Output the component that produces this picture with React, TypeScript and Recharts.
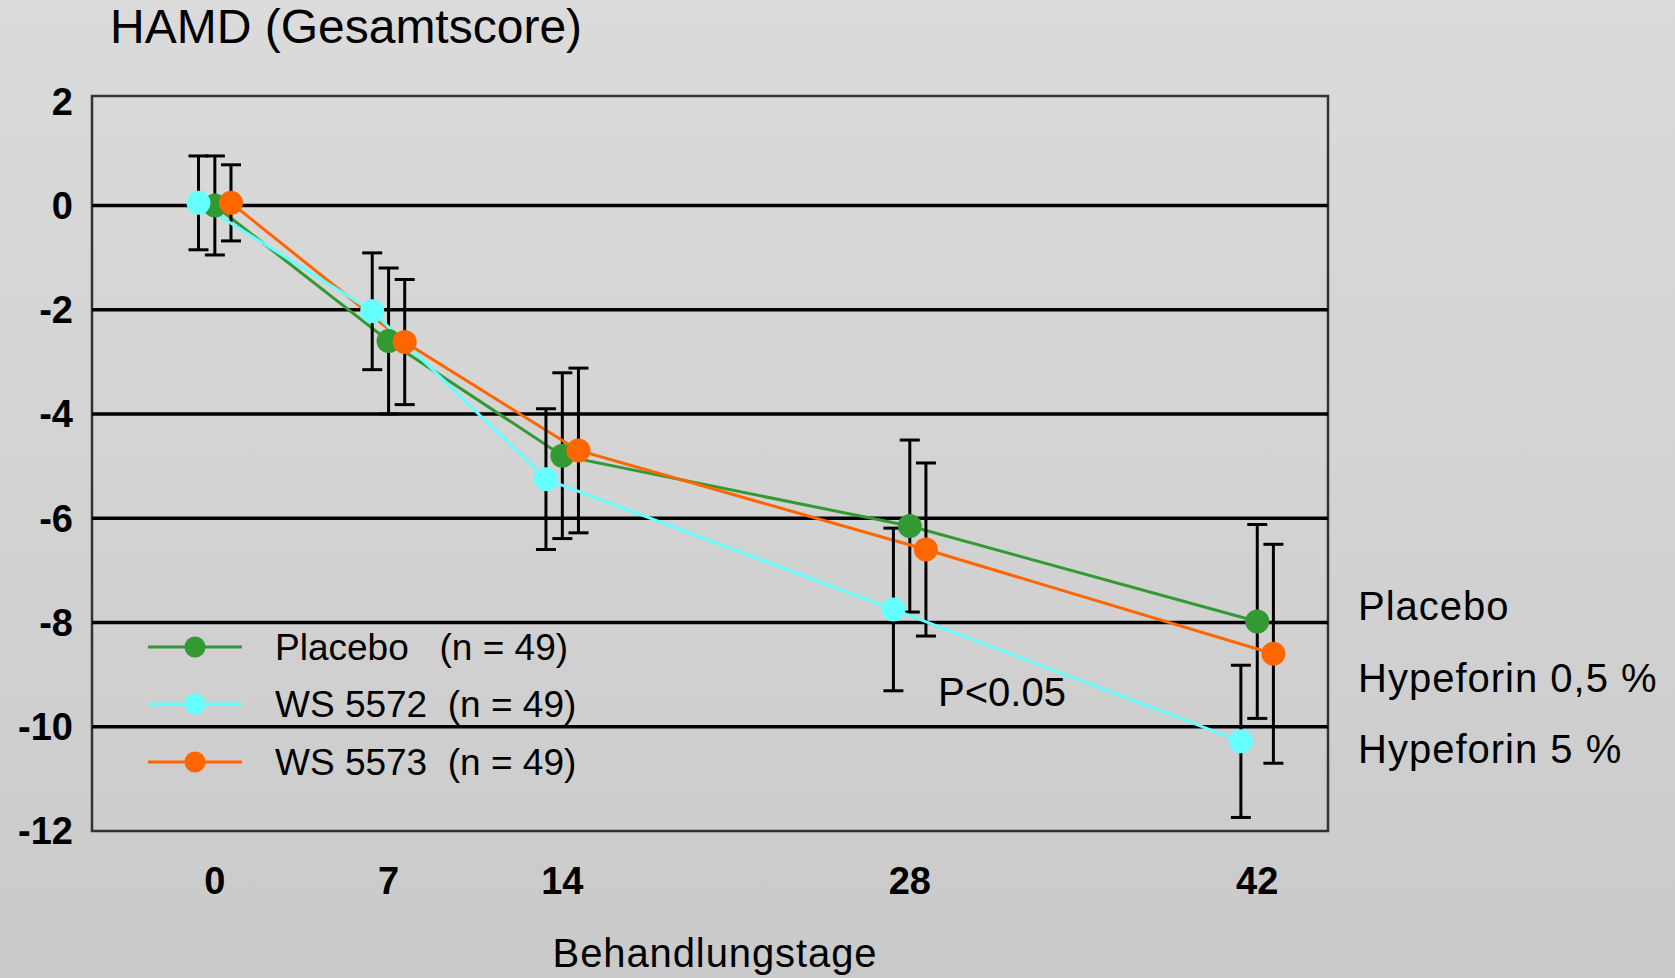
import React from 'react';
import { LineChart, Line, XAxis, YAxis, ErrorBar, ReferenceLine, ReferenceArea } from 'recharts';

// Messzeitpunkte (Behandlungstage)
const days = [0, 7, 14, 28, 42];

// mittlere Veränderung HAMD-Gesamtscore, Fehlerbalken je Gruppe
const placeboMean = [0, -2.6, -4.8, -6.15, -7.98];
const placeboErr = [0.95, 1.4, 1.59, 1.65, 1.86];
const ws5572Mean = [0.05, -2.03, -5.25, -7.75, -10.28];
const ws5572Err = [0.9, 1.12, 1.35, 1.56, 1.46];
const ws5573Mean = [0.05, -2.62, -4.7, -6.6, -8.6];
const ws5573Err = [0.73, 1.2, 1.58, 1.66, 2.1];

const xTicks = [0, 7, 14, 28, 42];
const yTicks = [2, 0, -2, -4, -6, -8, -10, -12];
const gridValues = [0, -2, -4, -6, -8, -10];

const legendNames = ['Placebo   (n = 49)', 'WS 5572  (n = 49)', 'WS 5573  (n = 49)'];
const doseLabels = ['Placebo', 'Hypeforin 0,5 %', 'Hypeforin 5 %'];

const X_DOMAIN: [number, number] = [-4.95, 44.85];
const Y_DOMAIN: [number, number] = [-12, 2.1];
const FONT = '"Liberation Sans", Arial, Helvetica, sans-serif';

// shift = seitlicher Versatz in Tagen, damit sich die Fehlerbalken nicht verdecken
const series = [
  { key: 'placebo', name: legendNames[0], color: '#339933', mean: placeboMean, err: placeboErr, shift: 0 },
  { key: 'ws5572', name: legendNames[1], color: '#66ffff', mean: ws5572Mean, err: ws5572Err, shift: -0.66 },
  { key: 'ws5573', name: legendNames[2], color: '#ff6600', mean: ws5573Mean, err: ws5573Err, shift: 0.65 },
];

const toPoints = (mean: number[], err: number[], shift: number) =>
  days.map((d, i) => ({ x: d + shift, y: mean[i], err: err[i] }));

// Zeichenreihenfolge: Placebo unten, WS 5572 oben
const drawOrder = ['placebo', 'ws5573', 'ws5572'];

export default function App() {
  const tickStyle = { fill: '#000', fontSize: 38, fontWeight: 700, fontFamily: FONT };

  return (
    <div
      style={{
        position: 'absolute',
        left: 0,
        top: 0,
        width: 1675,
        height: 978,
        background: 'linear-gradient(180deg, #dbdbdb 0%, #d3d3d3 50%, #cacaca 100%)',
        fontFamily: FONT,
        overflow: 'hidden',
      }}
    >
      <LineChart width={1675} height={978} margin={{ top: 96, right: 347, bottom: 5, left: 12 }}>
        <XAxis
          type="number"
          dataKey="x"
          domain={X_DOMAIN}
          ticks={xTicks}
          interval={0}
          allowDataOverflow
          axisLine={false}
          tickLine={false}
          tickMargin={30}
          height={142}
          tick={tickStyle}
          label={{
            value: 'Behandlungstage',
            position: 'insideBottom',
            offset: 6,
            dx: 5,
            fill: '#000',
            fontSize: 40,
            letterSpacing: 0.9,
            fontFamily: FONT,
          }}
        />
        <YAxis
          type="number"
          domain={Y_DOMAIN}
          ticks={yTicks}
          interval={0}
          allowDataOverflow
          width={80}
          axisLine={false}
          tickLine={false}
          tickMargin={13}
          tick={tickStyle}
        />

        {gridValues.map((v) => (
          <ReferenceLine key={v} y={v} stroke="#000" strokeWidth={3.5} />
        ))}

        <ReferenceArea
          x1={X_DOMAIN[0]}
          x2={X_DOMAIN[1]}
          y1={Y_DOMAIN[0]}
          y2={Y_DOMAIN[1]}
          fill="none"
          fillOpacity={0}
          stroke="#333"
          strokeWidth={2.5}
        />

        {drawOrder.map((k) => {
          const s = series.find((item) => item.key === k)!;
          return (
            <Line
              key={s.key}
              data={toPoints(s.mean, s.err, s.shift)}
              dataKey="y"
              name={s.name}
              type="linear"
              stroke={s.color}
              strokeWidth={3}
              dot={{ r: 12, fill: s.color, stroke: s.color, strokeWidth: 0 }}
              activeDot={false}
              isAnimationActive={false}
            >
              <ErrorBar dataKey="err" width={10} stroke="#000" strokeWidth={3} isAnimationActive={false} />
            </Line>
          );
        })}
      </LineChart>

      <svg
        width={1675}
        height={978}
        style={{ position: 'absolute', left: 0, top: 0, pointerEvents: 'none' }}
        fontFamily={FONT}
      >
        <text x={110} y={43} fontSize={48} fill="#000">
          HAMD (Gesamtscore)
        </text>

        {series.map((s, i) => {
          const cy = [647, 704, 762][i];
          return (
            <g key={s.key}>
              <line x1={148} x2={242} y1={cy} y2={cy} stroke={s.color} strokeWidth={3} />
              <circle cx={195} cy={cy} r={10.5} fill={s.color} />
              <text x={275} y={cy + 13} fontSize={37} fill="#000" style={{ whiteSpace: 'pre' }}>
                {s.name}
              </text>
            </g>
          );
        })}

        <text x={938} y={706} fontSize={40} fill="#000">
          P&lt;0.05
        </text>

        {doseLabels.map((t, i) => (
          <text key={t} x={1358} y={[620, 692, 763][i]} fontSize={40} letterSpacing={1} fill="#000">
            {t}
          </text>
        ))}
      </svg>
    </div>
  );
}
